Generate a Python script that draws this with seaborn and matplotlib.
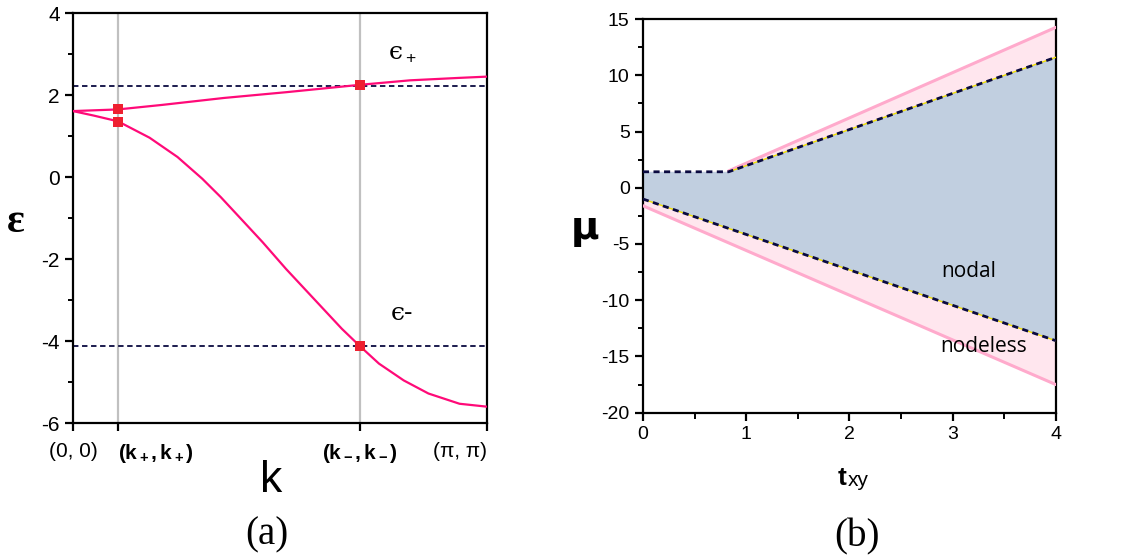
import numpy as np
import matplotlib
matplotlib.use('Agg')
import matplotlib.pyplot as plt
import seaborn as sns

# (a) band structure along the diagonal
k_lower = [0.0, 0.158, 0.342, 0.582, 0.794, 0.982, 1.123, 1.288, 1.441, 1.618, 1.83,
           2.042, 2.178, 2.324, 2.512, 2.70, 2.936, np.pi]
eps_lower = [1.61, 1.50, 1.36, 0.96, 0.49, -0.04, -0.49, -1.06, -1.59, -2.24, -2.97,
             -3.70, -4.12, -4.55, -4.96, -5.28, -5.53, -5.60]
k_upper = [0.0, 0.342, 0.676, 1.147, 1.618, 2.178, 2.56, 2.936, np.pi]
eps_upper = [1.61, 1.65, 1.76, 1.93, 2.07, 2.25, 2.36, 2.42, 2.45]
k_marks = [0.342, 0.342, 2.178, 2.178]
eps_marks = [1.66, 1.35, 2.25, -4.12]
k_plus, k_minus = 0.342, 2.178
eps_plus_level, eps_minus_level = 2.22, -4.12
k_ticklabels = ['(0, 0)', r'$\mathbf{(k_+, k_+)}$', r'$\mathbf{(k_-, k_-)}$', '(π, π)']

# (b) phase diagram mu vs t_xy
t_up_dash = [0.0, 0.83, 4.0]
mu_up_dash = [1.42, 1.42, 11.6]
t_low_dash = [0.0, 4.0]
mu_low_dash = [-1.0, -13.6]
t_up_pink = [0.83, 4.0]
mu_up_pink = [1.5, 14.26]
t_low_pink = [0.0, 4.0]
mu_low_pink = [-1.6, -17.5]

sns.set_style('ticks')
plt.rcParams['font.family'] = ['Liberation Sans', 'DejaVu Sans']
plt.rcParams['mathtext.fontset'] = 'custom'
plt.rcParams['mathtext.rm'] = 'Liberation Sans'
plt.rcParams['mathtext.bf'] = 'Liberation Sans:bold'
plt.rcParams['mathtext.it'] = 'Liberation Sans:italic'
plt.rcParams['axes.unicode_minus'] = False
plt.rcParams['text.color'] = 'black'
plt.rcParams['axes.labelcolor'] = 'black'
plt.rcParams['xtick.color'] = 'black'
plt.rcParams['ytick.color'] = 'black'

curve_col = '#ff0a78'
fig = plt.figure(figsize=(11.24, 5.6), dpi=100)
ax1 = fig.add_axes([0.0649, 0.2446, 0.368, 0.732])
ax2 = fig.add_axes([0.572, 0.263, 0.3674, 0.703])

# ---- panel (a)
for kv in [k_plus, k_minus]:
    ax1.axvline(kv, color='#c0c0c0', lw=1.6, zorder=1)
for lev in [eps_plus_level, eps_minus_level]:
    ax1.axhline(lev, color='#0a0a40', lw=1.3, dashes=(3, 2), zorder=2)
sns.lineplot(x=k_upper, y=eps_upper, ax=ax1, color=curve_col, lw=1.6, sort=False, zorder=3)
sns.lineplot(x=k_lower, y=eps_lower, ax=ax1, color=curve_col, lw=1.6, sort=False, zorder=3)
sns.scatterplot(x=k_marks, y=eps_marks, ax=ax1, color='#ee2030', marker='s', s=48,
                edgecolor='none', zorder=4)
ax1.set_xlim(0, np.pi)
ax1.set_ylim(-6, 4)
ax1.set_yticks([4, 2, 0, -2, -4, -6])
ax1.set_yticks([3, 1, -1, -3, -5], minor=True)
ax1.set_xticks([0, k_plus, k_minus, np.pi])
ax1.set_xticklabels(k_ticklabels, fontsize=15)
for lab, ha in zip(ax1.get_xticklabels(), ['center', 'left', 'center', 'right']):
    lab.set_ha(ha)
ax1.tick_params(axis='y', labelsize=15)
ax1.tick_params(axis='x', pad=8)
ax1.text(2.5, 3.05, r'ϵ$_+$', fontsize=18, ha='center', va='center', family='DejaVu Serif')
ax1.text(2.5, -3.32, 'ϵ-', fontsize=18, ha='center', va='center', family='DejaVu Serif')
ax1.set_ylabel('ε', fontsize=30, fontweight='bold', family='Liberation Serif', rotation=0,
               va='center', ha='center')
ax1.yaxis.set_label_coords(-0.138, 0.49)
ax1.set_xlabel('k', fontsize=32, va='center')
ax1.xaxis.set_label_coords(0.478, -0.14)

# ---- panel (b)
ax2.fill(t_up_dash[:2] + t_up_pink + t_low_pink[::-1],
         mu_up_dash[:2] + mu_up_pink + mu_low_pink[::-1],
         color='#ffe6ee', lw=0, zorder=1)
ax2.fill(t_up_dash + t_low_dash[::-1], mu_up_dash + mu_low_dash[::-1],
         color='#c1cfe0', lw=0, zorder=2)
sns.lineplot(x=t_up_pink, y=mu_up_pink, ax=ax2, color='#ffaacc', lw=2.2, zorder=3)
sns.lineplot(x=t_low_pink, y=mu_low_pink, ax=ax2, color='#ffaacc', lw=2.2, zorder=3)
sns.lineplot(x=t_up_dash[1:], y=mu_up_dash[1:], ax=ax2, color='#f0e000', lw=1.0, zorder=4)
sns.lineplot(x=t_low_dash, y=mu_low_dash, ax=ax2, color='#f0e000', lw=1.0, zorder=4)
sns.lineplot(x=t_up_dash, y=mu_up_dash, ax=ax2, color='#0a0a40', lw=2.0, dashes=(2.2, 1.6), zorder=5)
sns.lineplot(x=t_low_dash, y=mu_low_dash, ax=ax2, color='#0a0a40', lw=2.0, dashes=(2.2, 1.6), zorder=5)
ax2.set_xlim(0, 4)
ax2.set_ylim(-20, 15)
ax2.set_xticks([0, 1, 2, 3, 4])
ax2.set_xticks([0.5, 1.5, 2.5, 3.5], minor=True)
ax2.set_yticks([15, 10, 5, 0, -5, -10, -15, -20])
ax2.set_yticks(np.arange(-17.5, 15, 5), minor=True)
ax2.tick_params(labelsize=14)
ax2.text(3.16, -7.94, 'nodal', fontsize=15, ha='center', va='baseline', family='Open Sans')
ax2.text(3.30, -14.6, 'nodeless', fontsize=15, ha='center', va='baseline', family='Open Sans')
ax2.set_ylabel('μ', fontsize=28, fontweight='bold', family='DejaVu Sans', rotation=0,
               va='center', ha='center')
ax2.yaxis.set_label_coords(-0.14, 0.47)
# x label: bold "t" followed by smaller "xy"
ax2.text(0.494, -0.184, 't', transform=ax2.transAxes, fontsize=19, fontweight='bold',
         ha='right', va='baseline')
ax2.text(0.496, -0.187, 'xy', transform=ax2.transAxes, fontsize=15, ha='left', va='baseline')

for ax in (ax1, ax2):
    for sp in ax.spines.values():
        sp.set_linewidth(1.6)
        sp.set_color('black')
    ax.tick_params(which='major', direction='out', length=6, width=1.6)
    ax.tick_params(which='minor', direction='out', length=3.5, width=1.4)
    ax.tick_params(axis='x', which='minor', length=4.5)

fig.text(0.2375, 0.045, '(a)', fontsize=28, family='Liberation Serif', ha='center', va='center')
fig.text(0.7625, 0.041, '(b)', fontsize=28, family='Liberation Serif', ha='center', va='center')

fig.savefig('out.png', dpi=100, facecolor='white')
